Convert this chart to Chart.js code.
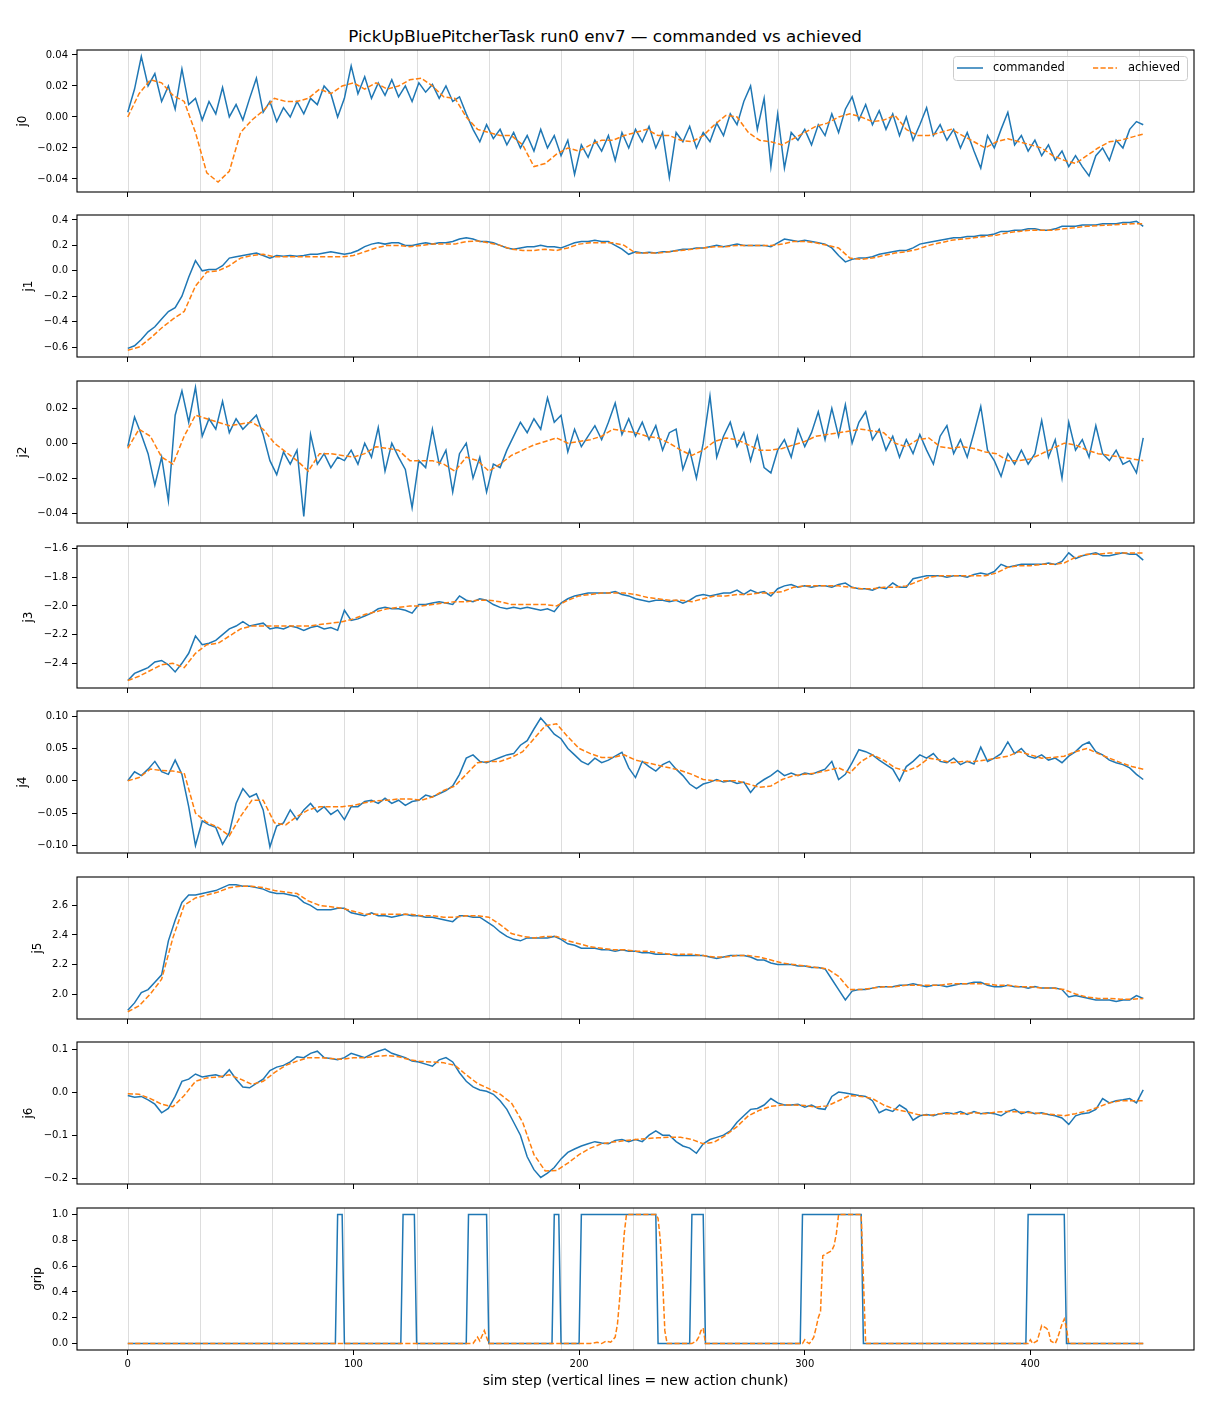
<!DOCTYPE html>
<html>
<head>
<meta charset="utf-8">
<title>PickUpBluePitcherTask run0 env7</title>
<script src="https://cdn.jsdelivr.net/npm/chart.js@4.4.1/dist/chart.umd.min.js"></script>
<style>
  body { margin: 0; background: #fff; width: 1210px; height: 1408px; position: relative; overflow: hidden; font-family: "DejaVu Sans", sans-serif; }
  #title { position: absolute; top: 26px; left: 0; width: 1210px; text-align: center; font-size: 16.7px; color: #000; }
  canvas { position: absolute; left: 0; }
</style>
</head>
<body>
<div id="title">PickUpBluePitcherTask run0 env7 — commanded vs achieved</div>
<script>
"use strict";

// ---- data ----
const cmdSteps = [0,3,6,9,12,15,18,21,24,27,30,33,36,39,42,45,48,51,54,57,60,63,66,69,72,75,78,81,84,87,
  90,93,96,99,102,105,108,111,114,117,120,123,126,129,132,135,138,141,144,147,150,153,156,159,162,165,168,171,174,177,
  180,183,186,189,192,195,198,201,204,207,210,213,216,219,222,225,228,231,234,237,240,243,246,249,252,255,258,261,264,267,
  270,273,276,279,282,285,288,291,294,297,300,303,306,309,312,315,318,321,324,327,330,333,336,339,342,345,348,351,354,357,
  360,363,366,369,372,375,378,381,384,387,390,393,396,399,402,405,408,411,414,417,420,423,426,429,432,435,438,441,444,447,450];
const achSteps = [0,5,10,15,20,25,30,35,40,45,50,55,60,65,70,75,80,85,90,95,100,105,110,115,120,125,130,135,140,145,
  150,155,160,165,170,175,180,185,190,195,200,205,210,215,220,225,230,235,240,245,250,255,260,265,270,275,280,285,290,295,
  300,305,310,315,320,325,330,335,340,345,350,355,360,365,370,375,380,385,390,395,400,405,410,415,420,425,430,435,440,445,450];
const chunkStarts = [0, 32, 64, 96, 128, 160, 192, 224, 256, 288, 320, 352, 384, 416, 448];
const xTicks = [0, 100, 200, 300, 400];

const j0Cmd = [0.003,0.018,0.039,0.02,0.028,0.01,0.02,0.005,0.031,0.008,
  0.012,-0.002,0.01,0.002,0.019,0.0,0.008,-0.002,0.012,0.025,
  0.003,0.01,-0.003,0.006,0.0,0.01,0.002,0.012,0.008,0.02,
  0.015,0.0,0.012,0.033,0.015,0.026,0.012,0.022,0.014,0.024,
  0.013,0.02,0.01,0.022,0.016,0.021,0.012,0.02,0.01,0.013,
  0.002,-0.008,-0.016,-0.005,-0.014,-0.008,-0.018,-0.01,-0.02,-0.012,
  -0.022,-0.008,-0.02,-0.012,-0.025,-0.015,-0.037,-0.018,-0.026,-0.015,
  -0.022,-0.012,-0.028,-0.01,-0.02,-0.008,-0.016,-0.006,-0.02,-0.01,
  -0.039,-0.01,-0.016,-0.006,-0.02,-0.01,-0.016,-0.004,-0.012,0.002,
  -0.005,0.01,0.02,-0.008,0.012,-0.032,0.002,-0.033,-0.01,-0.015,
  -0.008,-0.018,-0.005,-0.012,0.002,-0.01,0.005,0.013,-0.002,0.008,
  -0.005,0.004,-0.008,0.002,-0.012,0.0,-0.015,-0.005,0.006,-0.012,
  -0.005,-0.015,-0.008,-0.02,-0.01,-0.022,-0.033,-0.012,-0.02,-0.008,
  0.003,-0.018,-0.012,-0.022,-0.015,-0.025,-0.018,-0.028,-0.022,-0.032,
  -0.025,-0.032,-0.038,-0.025,-0.02,-0.028,-0.015,-0.02,-0.008,-0.003,-0.005];
const j0Ach = [0.0,0.015,0.024,0.022,0.014,0.01,-0.01,-0.036,-0.042,-0.035,
  -0.01,-0.002,0.004,0.012,0.01,0.01,0.012,0.018,0.015,0.02,
  0.022,0.018,0.022,0.018,0.02,0.024,0.025,0.02,0.013,0.012,
  0.0,-0.008,-0.01,-0.012,-0.012,-0.018,-0.032,-0.03,-0.024,-0.02,
  -0.022,-0.018,-0.015,-0.015,-0.012,-0.01,-0.008,-0.012,-0.012,-0.015,
  -0.016,-0.012,-0.005,0.001,0.0,-0.01,-0.015,-0.016,-0.018,-0.014,
  -0.01,-0.006,-0.004,0.0,0.002,0.0,-0.003,-0.002,0.001,-0.008,
  -0.012,-0.012,-0.01,-0.008,-0.012,-0.016,-0.02,-0.016,-0.014,-0.016,
  -0.018,-0.02,-0.025,-0.028,-0.03,-0.025,-0.02,-0.016,-0.015,-0.013,-0.011];

const j1Cmd = [-0.61,-0.59,-0.54,-0.48,-0.44,-0.38,-0.32,-0.29,-0.2,-0.05,
  0.08,0.0,0.01,0.01,0.04,0.1,0.11,0.12,0.13,0.14,
  0.12,0.1,0.12,0.115,0.12,0.115,0.12,0.13,0.13,0.14,
  0.15,0.14,0.13,0.14,0.16,0.19,0.21,0.22,0.21,0.22,
  0.22,0.2,0.2,0.21,0.22,0.21,0.22,0.22,0.23,0.25,
  0.26,0.25,0.23,0.23,0.22,0.2,0.18,0.17,0.18,0.19,
  0.19,0.2,0.19,0.19,0.18,0.2,0.22,0.23,0.23,0.24,
  0.23,0.23,0.2,0.17,0.13,0.15,0.14,0.145,0.14,0.15,
  0.15,0.16,0.17,0.17,0.18,0.18,0.19,0.2,0.19,0.2,
  0.21,0.2,0.2,0.2,0.2,0.19,0.22,0.25,0.24,0.23,
  0.24,0.23,0.22,0.21,0.18,0.12,0.07,0.09,0.1,0.1,
  0.11,0.13,0.14,0.15,0.16,0.16,0.18,0.21,0.22,0.23,
  0.24,0.25,0.26,0.26,0.27,0.27,0.28,0.28,0.29,0.31,
  0.31,0.32,0.32,0.33,0.33,0.32,0.32,0.33,0.35,0.35,
  0.35,0.36,0.36,0.36,0.37,0.37,0.37,0.38,0.38,0.39,0.35];
const j1Ach = [-0.625,-0.6,-0.53,-0.45,-0.38,-0.32,-0.12,-0.01,0.0,0.04,
  0.1,0.12,0.13,0.11,0.11,0.11,0.11,0.11,0.11,0.11,
  0.12,0.15,0.18,0.2,0.2,0.19,0.2,0.21,0.21,0.21,
  0.23,0.235,0.22,0.2,0.17,0.16,0.16,0.17,0.16,0.18,
  0.21,0.22,0.22,0.22,0.2,0.14,0.14,0.14,0.15,0.16,
  0.17,0.18,0.19,0.19,0.2,0.2,0.2,0.2,0.21,0.23,
  0.23,0.22,0.2,0.18,0.1,0.09,0.1,0.12,0.14,0.15,
  0.17,0.2,0.22,0.24,0.25,0.26,0.27,0.28,0.3,0.31,
  0.32,0.32,0.32,0.33,0.34,0.35,0.355,0.36,0.365,0.37,0.37];

const j2Cmd = [-0.002,0.015,0.005,-0.006,-0.024,-0.008,-0.033,0.016,0.03,0.012,
  0.032,0.004,0.014,0.008,0.024,0.006,0.014,0.008,0.012,0.016,
  0.005,-0.01,-0.018,-0.005,-0.012,-0.004,-0.042,0.005,-0.012,-0.006,
  -0.014,-0.008,-0.01,-0.004,-0.012,0.0,-0.008,0.009,-0.016,0.0,
  -0.008,-0.015,-0.037,-0.01,-0.014,0.008,-0.012,-0.004,-0.028,-0.006,
  0.0,-0.02,-0.008,-0.028,-0.012,-0.014,-0.004,0.004,0.012,0.006,
  0.014,0.008,0.026,0.012,0.016,-0.005,0.008,-0.002,0.004,0.01,
  0.002,0.012,0.023,0.005,0.014,0.004,0.012,0.002,0.01,-0.004,
  0.006,0.008,-0.015,-0.004,-0.02,0.0,0.027,-0.008,0.004,0.012,
  -0.002,0.006,-0.01,0.004,-0.014,-0.017,-0.004,0.002,-0.008,0.008,
  -0.002,0.006,0.018,0.002,0.02,0.004,0.022,0.0,0.012,0.018,
  0.002,0.008,-0.004,0.004,-0.008,0.002,-0.006,0.005,-0.004,-0.012,
  0.004,0.01,-0.006,0.002,-0.008,0.006,0.021,-0.004,-0.01,-0.019,
  -0.006,-0.012,-0.004,-0.012,-0.006,0.013,-0.008,0.002,-0.02,0.012,
  -0.004,0.002,-0.008,0.01,-0.006,-0.01,-0.004,-0.012,-0.01,-0.017,0.003];
const j2Ach = [-0.003,0.008,0.004,-0.008,-0.012,0.004,0.016,0.014,0.012,0.01,
  0.011,0.012,0.008,0.0,-0.005,-0.01,-0.016,-0.006,-0.006,-0.007,
  -0.008,-0.006,-0.002,-0.003,-0.004,-0.01,-0.01,-0.01,-0.012,-0.016,
  -0.008,-0.01,-0.016,-0.012,-0.007,-0.004,-0.001,0.001,0.003,0.0,
  0.001,0.002,0.004,0.008,0.007,0.006,0.004,0.003,0.0,-0.004,
  -0.007,-0.004,0.001,0.003,0.002,-0.001,-0.004,-0.004,-0.003,-0.001,
  0.001,0.004,0.005,0.006,0.007,0.008,0.007,0.006,0.0,-0.002,
  0.002,0.003,-0.002,-0.003,-0.002,-0.003,-0.005,-0.006,-0.01,-0.01,
  -0.009,-0.006,-0.003,0.0,-0.001,-0.004,-0.006,-0.007,-0.008,-0.009,-0.01];

const j3Cmd = [-2.52,-2.47,-2.45,-2.43,-2.39,-2.38,-2.41,-2.46,-2.4,-2.33,
  -2.21,-2.27,-2.26,-2.24,-2.2,-2.16,-2.14,-2.11,-2.14,-2.13,
  -2.12,-2.16,-2.15,-2.16,-2.14,-2.15,-2.17,-2.15,-2.14,-2.16,
  -2.15,-2.17,-2.03,-2.1,-2.09,-2.07,-2.05,-2.02,-2.01,-2.02,
  -2.02,-2.03,-2.05,-1.99,-1.99,-1.98,-1.97,-1.98,-1.99,-1.93,
  -1.96,-1.97,-1.95,-1.96,-1.99,-2.01,-2.02,-2.01,-2.02,-2.01,
  -2.02,-2.03,-2.02,-2.04,-1.98,-1.95,-1.93,-1.92,-1.91,-1.91,
  -1.91,-1.91,-1.9,-1.92,-1.93,-1.95,-1.96,-1.97,-1.96,-1.96,
  -1.97,-1.96,-1.98,-1.96,-1.93,-1.92,-1.93,-1.92,-1.91,-1.91,
  -1.89,-1.92,-1.89,-1.91,-1.9,-1.93,-1.88,-1.86,-1.85,-1.87,
  -1.86,-1.87,-1.86,-1.86,-1.87,-1.85,-1.84,-1.87,-1.88,-1.88,
  -1.89,-1.87,-1.88,-1.84,-1.87,-1.87,-1.81,-1.8,-1.79,-1.79,
  -1.79,-1.8,-1.79,-1.79,-1.8,-1.78,-1.77,-1.78,-1.76,-1.71,
  -1.73,-1.72,-1.71,-1.71,-1.71,-1.71,-1.7,-1.71,-1.69,-1.63,
  -1.67,-1.65,-1.64,-1.63,-1.65,-1.65,-1.64,-1.63,-1.64,-1.64,-1.68];
const j3Ach = [-2.52,-2.49,-2.45,-2.41,-2.4,-2.43,-2.33,-2.27,-2.26,-2.21,
  -2.16,-2.14,-2.14,-2.14,-2.14,-2.14,-2.14,-2.13,-2.12,-2.11,
  -2.09,-2.06,-2.04,-2.02,-2.01,-2.0,-2.0,-1.99,-1.98,-1.97,
  -1.97,-1.96,-1.96,-1.97,-1.99,-1.99,-1.99,-1.99,-2.0,-1.96,
  -1.93,-1.92,-1.91,-1.91,-1.91,-1.92,-1.94,-1.95,-1.96,-1.96,
  -1.97,-1.95,-1.93,-1.93,-1.92,-1.92,-1.91,-1.91,-1.9,-1.87,
  -1.86,-1.86,-1.86,-1.86,-1.87,-1.88,-1.88,-1.87,-1.87,-1.86,
  -1.83,-1.8,-1.79,-1.79,-1.79,-1.79,-1.79,-1.77,-1.73,-1.72,
  -1.72,-1.71,-1.71,-1.7,-1.66,-1.64,-1.64,-1.63,-1.63,-1.63,-1.63];

const j4Cmd = [0.0,0.014,0.008,0.018,0.03,0.014,0.01,0.032,0.01,-0.04,
  -0.1,-0.062,-0.068,-0.072,-0.098,-0.08,-0.035,-0.012,-0.025,-0.02,
  -0.045,-0.102,-0.07,-0.065,-0.045,-0.06,-0.045,-0.035,-0.048,-0.04,
  -0.052,-0.045,-0.06,-0.04,-0.04,-0.032,-0.03,-0.035,-0.027,-0.035,
  -0.03,-0.038,-0.032,-0.03,-0.022,-0.025,-0.02,-0.015,-0.008,0.01,
  0.035,0.04,0.03,0.028,0.032,0.036,0.04,0.042,0.055,0.062,
  0.08,0.097,0.085,0.072,0.065,0.05,0.04,0.03,0.025,0.035,
  0.028,0.032,0.038,0.044,0.02,0.005,0.03,0.022,0.015,0.025,
  0.03,0.018,0.008,-0.005,-0.012,-0.005,-0.002,0.002,-0.002,0.0,
  -0.004,-0.002,-0.018,-0.005,0.002,0.008,0.016,0.008,0.012,0.008,
  0.012,0.01,0.014,0.018,0.03,0.002,0.01,0.028,0.048,0.045,
  0.04,0.032,0.025,0.018,0.0,0.022,0.03,0.04,0.035,0.042,
  0.03,0.028,0.035,0.025,0.03,0.026,0.052,0.03,0.035,0.042,
  0.06,0.042,0.05,0.038,0.035,0.04,0.032,0.035,0.028,0.038,
  0.045,0.055,0.06,0.045,0.04,0.032,0.028,0.025,0.02,0.01,0.002];
const j4Ach = [0.0,0.005,0.018,0.016,0.015,0.012,-0.05,-0.064,-0.072,-0.085,
  -0.055,-0.03,-0.03,-0.065,-0.068,-0.055,-0.045,-0.04,-0.04,-0.04,
  -0.038,-0.034,-0.031,-0.03,-0.028,-0.028,-0.03,-0.025,-0.015,-0.008,
  0.01,0.028,0.03,0.03,0.036,0.045,0.065,0.085,0.088,0.068,
  0.05,0.042,0.036,0.036,0.04,0.032,0.028,0.024,0.02,0.016,
  0.01,0.002,0.0,0.0,0.0,-0.005,-0.01,-0.008,0.002,0.008,
  0.01,0.012,0.016,0.02,0.012,0.03,0.04,0.032,0.02,0.015,
  0.022,0.035,0.032,0.028,0.03,0.03,0.032,0.035,0.038,0.045,
  0.04,0.035,0.036,0.038,0.045,0.05,0.042,0.035,0.028,0.022,0.018];

const j5Cmd = [1.89,1.94,2.01,2.03,2.08,2.13,2.36,2.5,2.62,2.67,
  2.67,2.68,2.69,2.7,2.72,2.74,2.74,2.73,2.73,2.72,
  2.71,2.69,2.68,2.68,2.67,2.66,2.62,2.6,2.57,2.57,
  2.57,2.58,2.58,2.55,2.54,2.53,2.55,2.53,2.53,2.52,
  2.53,2.54,2.53,2.53,2.52,2.52,2.51,2.5,2.49,2.53,
  2.53,2.52,2.52,2.49,2.46,2.42,2.39,2.37,2.36,2.38,
  2.38,2.38,2.38,2.39,2.37,2.34,2.33,2.31,2.31,2.31,
  2.3,2.3,2.29,2.3,2.29,2.29,2.28,2.28,2.27,2.27,
  2.27,2.26,2.26,2.26,2.26,2.26,2.25,2.24,2.25,2.26,
  2.26,2.26,2.25,2.23,2.23,2.21,2.2,2.2,2.2,2.19,
  2.19,2.18,2.18,2.17,2.1,2.03,1.96,2.02,2.03,2.03,
  2.04,2.05,2.05,2.05,2.06,2.06,2.07,2.06,2.05,2.06,
  2.06,2.05,2.06,2.07,2.07,2.08,2.08,2.06,2.05,2.05,
  2.06,2.05,2.05,2.04,2.05,2.04,2.04,2.04,2.03,1.98,
  1.99,1.98,1.97,1.96,1.96,1.96,1.95,1.96,1.96,1.99,1.97];
const j5Ach = [1.88,1.92,2.0,2.1,2.38,2.6,2.65,2.67,2.69,2.72,
  2.73,2.73,2.72,2.7,2.69,2.68,2.63,2.6,2.59,2.58,
  2.56,2.54,2.54,2.54,2.54,2.54,2.53,2.53,2.52,2.52,
  2.53,2.53,2.52,2.47,2.41,2.39,2.38,2.39,2.39,2.36,
  2.34,2.32,2.31,2.3,2.3,2.29,2.29,2.28,2.27,2.27,
  2.27,2.26,2.25,2.25,2.26,2.26,2.25,2.23,2.21,2.2,
  2.19,2.18,2.17,2.12,2.03,2.03,2.04,2.05,2.05,2.06,
  2.06,2.06,2.06,2.07,2.07,2.07,2.07,2.06,2.06,2.05,
  2.05,2.04,2.04,2.03,2.0,1.98,1.97,1.97,1.965,1.965,1.97];

const j6Cmd = [-0.008,-0.012,-0.01,-0.018,-0.028,-0.048,-0.038,-0.01,0.025,0.03,
  0.042,0.035,0.038,0.04,0.035,0.052,0.03,0.012,0.01,0.02,
  0.03,0.05,0.058,0.062,0.07,0.082,0.08,0.09,0.095,0.08,
  0.078,0.075,0.08,0.09,0.085,0.08,0.088,0.095,0.1,0.09,
  0.085,0.08,0.072,0.07,0.065,0.06,0.075,0.08,0.07,0.045,
  0.025,0.012,0.005,0.002,-0.005,-0.02,-0.04,-0.07,-0.1,-0.15,
  -0.18,-0.198,-0.188,-0.175,-0.155,-0.14,-0.132,-0.125,-0.12,-0.115,
  -0.118,-0.12,-0.112,-0.11,-0.115,-0.11,-0.115,-0.1,-0.09,-0.1,
  -0.1,-0.115,-0.125,-0.13,-0.142,-0.12,-0.11,-0.105,-0.1,-0.09,
  -0.07,-0.055,-0.04,-0.038,-0.03,-0.015,-0.025,-0.03,-0.03,-0.028,
  -0.035,-0.03,-0.038,-0.04,-0.01,0.0,-0.002,-0.005,-0.008,-0.01,
  -0.02,-0.048,-0.04,-0.045,-0.03,-0.04,-0.065,-0.055,-0.052,-0.055,
  -0.05,-0.048,-0.05,-0.045,-0.052,-0.045,-0.05,-0.048,-0.05,-0.055,
  -0.045,-0.04,-0.05,-0.045,-0.05,-0.048,-0.052,-0.055,-0.06,-0.075,
  -0.055,-0.05,-0.048,-0.04,-0.015,-0.025,-0.02,-0.018,-0.015,-0.025,0.005];
const j6Ach = [-0.004,-0.005,-0.015,-0.028,-0.034,-0.008,0.025,0.033,0.035,0.04,
  0.03,0.018,0.025,0.045,0.062,0.072,0.08,0.08,0.078,0.076,
  0.08,0.08,0.083,0.085,0.082,0.075,0.071,0.07,0.068,0.062,
  0.04,0.02,0.008,-0.005,-0.025,-0.07,-0.145,-0.183,-0.182,-0.165,
  -0.145,-0.13,-0.12,-0.116,-0.113,-0.11,-0.108,-0.106,-0.105,-0.105,
  -0.11,-0.12,-0.116,-0.1,-0.08,-0.055,-0.042,-0.033,-0.03,-0.03,
  -0.031,-0.035,-0.032,-0.02,-0.008,-0.01,-0.015,-0.03,-0.04,-0.045,
  -0.052,-0.054,-0.05,-0.05,-0.05,-0.048,-0.05,-0.046,-0.045,-0.046,
  -0.048,-0.05,-0.052,-0.055,-0.05,-0.044,-0.035,-0.025,-0.02,-0.02,-0.02];

const gripCmdSteps = [0,92,93,95,96,121,122,127,128,150,151,159,160,188,189,191,192,
  200,201,234,235,249,250,255,256,298,299,325,326,398,399,415,416,450];
const gripCmd = [0,0,1,1,0,0,1,1,0,0,1,1,0,0,1,1,0,
  0,1,1,0,0,1,1,0,0,1,1,0,0,1,1,0,0];
const gripAchSteps = [0,153,155,156,158,160,205,208,210,212,214,216,217,218,219,220,221,234,235,236,237,238,239,
  250,252,253,254,255,256,299,300,301,302,303,304,305,306,307,308,310,312,313,314,315,325,326,327,
  399,400,401,403,405,407,408,409,411,412,414,415,416,417,450];
const gripAch = [0,0,0.05,0.02,0.1,0,0,0.01,0,0.02,0.01,0.05,0.15,0.35,0.6,0.85,1,1,0.97,0.8,0.5,0.1,0,
  0,0.02,0.05,0.1,0.12,0,0,0.03,0.01,0,0.02,0.05,0.12,0.2,0.25,0.68,0.7,0.72,0.76,0.85,1,1,0.5,0,
  0,0.03,0,0.02,0.14,0.12,0.1,0.02,0,0.04,0.15,0.19,0.12,0,0];

// y-axis limits and tick labels per panel
const j0Range = [-0.0484, 0.0432], j0Ticks = [-0.04, -0.02, 0, 0.02, 0.04];
const j1Range = [-0.678, 0.439],   j1Ticks = [-0.6, -0.4, -0.2, 0, 0.2, 0.4];
const j2Range = [-0.0457, 0.0356], j2Ticks = [-0.04, -0.02, 0, 0.02];
const j3Range = [-2.572, -1.582],  j3Ticks = [-2.4, -2.2, -2.0, -1.8, -1.6];
const j4Range = [-0.1115, 0.1078], j4Ticks = [-0.1, -0.05, 0, 0.05, 0.1];
const j5Range = [1.831, 2.792],    j5Ticks = [2.0, 2.2, 2.4, 2.6];
const j6Range = [-0.2133, 0.1163], j6Ticks = [-0.2, -0.1, 0, 0.1];
const gripRange = [-0.05, 1.05],   gripTicks = [0, 0.2, 0.4, 0.6, 0.8, 1.0];

// ---- drawing ----
const BLUE = "#1f77b4";
const ORANGE = "#ff7f0e";
const PANEL_H = 142;
const panelTops = [50, 215, 381, 546, 711, 877, 1042, 1208];

Chart.defaults.font.family = '"DejaVu Sans", sans-serif';
Chart.defaults.color = "#000";

const panels = [
  { label: "j0", cs: cmdSteps, cmd: j0Cmd, as: achSteps, ach: j0Ach, range: j0Range, ticks: j0Ticks, digits: 2, pad: 16 },
  { label: "j1", cs: cmdSteps, cmd: j1Cmd, as: achSteps, ach: j1Ach, range: j1Range, ticks: j1Ticks, digits: 1, pad: 22 },
  { label: "j2", cs: cmdSteps, cmd: j2Cmd, as: achSteps, ach: j2Ach, range: j2Range, ticks: j2Ticks, digits: 2, pad: 16 },
  { label: "j3", cs: cmdSteps, cmd: j3Cmd, as: achSteps, ach: j3Ach, range: j3Range, ticks: j3Ticks, digits: 1, pad: 22 },
  { label: "j4", cs: cmdSteps, cmd: j4Cmd, as: achSteps, ach: j4Ach, range: j4Range, ticks: j4Ticks, digits: 2, pad: 16 },
  { label: "j5", cs: cmdSteps, cmd: j5Cmd, as: achSteps, ach: j5Ach, range: j5Range, ticks: j5Ticks, digits: 1, pad: 31 },
  { label: "j6", cs: cmdSteps, cmd: j6Cmd, as: achSteps, ach: j6Ach, range: j6Range, ticks: j6Ticks, digits: 1, pad: 22 },
  { label: "grip", cs: gripCmdSteps, cmd: gripCmd, as: gripAchSteps, ach: gripAch, range: gripRange, ticks: gripTicks, digits: 1, pad: 31 },
];

const toXY = (xs, ys) => xs.map((x, i) => ({ x: x, y: ys[i] }));
const fmt = (v, d) => Number(v).toFixed(d).replace("-", "\u2212");

// light grey line at each new action chunk
const chunkLines = {
  id: "chunkLines",
  beforeDatasetsDraw(chart) {
    const { ctx, chartArea: a, scales: { x } } = chart;
    ctx.save();
    ctx.strokeStyle = "#dddddd";
    ctx.lineWidth = 1;
    chunkStarts.forEach((s) => {
      const px = Math.round(x.getPixelForValue(s)) + 0.5;
      ctx.beginPath();
      ctx.moveTo(px, a.top);
      ctx.lineTo(px, a.bottom);
      ctx.stroke();
    });
    ctx.restore();
  },
};

// four spines like matplotlib
const frame = {
  id: "frame",
  afterDatasetsDraw(chart) {
    const { ctx, chartArea: a } = chart;
    ctx.save();
    ctx.strokeStyle = "#000";
    ctx.lineWidth = 1.1;
    ctx.strokeRect(a.left, a.top, a.right - a.left, a.bottom - a.top);
    ctx.restore();
  },
};

// legend box inside the first panel, top right
const legendBox = {
  id: "legendBox",
  afterDraw(chart) {
    const { ctx, chartArea: a } = chart;
    const w = 234, h = 24;
    const x0 = a.right - 7 - w, y0 = a.top + 6, cy = y0 + h / 2;
    ctx.save();
    ctx.fillStyle = "rgba(255,255,255,0.8)";
    ctx.strokeStyle = "#cccccc";
    ctx.lineWidth = 1;
    ctx.beginPath();
    ctx.roundRect(x0 + 0.5, y0 + 0.5, w, h, 3);
    ctx.fill();
    ctx.stroke();

    ctx.lineWidth = 1.5;
    ctx.strokeStyle = BLUE;
    ctx.beginPath();
    ctx.moveTo(x0 + 4, cy);
    ctx.lineTo(x0 + 30, cy);
    ctx.stroke();

    ctx.strokeStyle = ORANGE;
    ctx.setLineDash([5.2, 2.3]);
    ctx.beginPath();
    ctx.moveTo(x0 + 140, cy);
    ctx.lineTo(x0 + 164, cy);
    ctx.stroke();
    ctx.setLineDash([]);

    ctx.fillStyle = "#000";
    ctx.font = '11.5px "DejaVu Sans", sans-serif';
    ctx.textBaseline = "middle";
    ctx.fillText("commanded", x0 + 40, cy);
    ctx.fillText("achieved", x0 + 175, cy);
    ctx.restore();
  },
};

panels.forEach((p, i) => {
  const isLast = i === panels.length - 1;
  const extra = isLast ? 50 : 8;
  const canvas = document.createElement("canvas");
  canvas.width = 1210;
  canvas.height = 3 + PANEL_H + extra;
  canvas.style.top = panelTops[i] - 3 + "px";
  document.body.appendChild(canvas);

  new Chart(canvas.getContext("2d"), {
    type: "line",
    data: {
      datasets: [
        {
          label: "commanded",
          data: toXY(p.cs, p.cmd),
          borderColor: BLUE,
          borderWidth: 1.5,
          order: 1,
        },
        {
          label: "achieved",
          data: toXY(p.as, p.ach),
          borderColor: ORANGE,
          borderWidth: 1.5,
          borderDash: [5.2, 2.3],
          order: 0,
        },
      ],
    },
    options: {
      responsive: false,
      animation: false,
      events: [],
      layout: { padding: { top: 3, right: 16, bottom: 0, left: 0 } },
      elements: { point: { radius: 0 }, line: { tension: 0 } },
      plugins: { legend: { display: false }, tooltip: { enabled: false } },
      scales: {
        x: {
          type: "linear",
          min: -22.5,
          max: 472.5,
          afterBuildTicks: (s) => { s.ticks = xTicks.map((v) => ({ value: v })); },
          afterFit: (s) => { s.height = extra; s.paddingLeft = 0; s.paddingRight = 0; },
          ticks: {
            autoSkip: false,
            maxRotation: 0,
            padding: 3,
            font: { size: 10 },
            callback: (v) => (isLast ? String(v) : ""),
          },
          grid: { drawOnChartArea: false, tickLength: 5, color: "#000", lineWidth: 1 },
          border: { display: false },
          title: {
            display: isLast,
            text: "sim step (vertical lines = new action chunk)",
            font: { size: 13.9 },
            padding: { top: 0, bottom: 10 },
          },
        },
        y: {
          min: p.range[0],
          max: p.range[1],
          afterBuildTicks: (s) => { s.ticks = p.ticks.map((v) => ({ value: v })); },
          afterFit: (s) => { s.width = 77; s.paddingTop = 0; s.paddingBottom = 0; },
          ticks: {
            padding: 4,
            font: { size: 10 },
            callback: (v) => fmt(v, p.digits),
          },
          grid: { drawOnChartArea: false, tickLength: 5, color: "#000", lineWidth: 1 },
          border: { display: false },
          title: {
            display: true,
            text: p.label,
            font: { size: 12 },
            padding: { top: p.pad, bottom: 0 },
          },
        },
      },
    },
    plugins: i === 0 ? [chunkLines, frame, legendBox] : [chunkLines, frame],
  });
});
</script>
</body>
</html>
